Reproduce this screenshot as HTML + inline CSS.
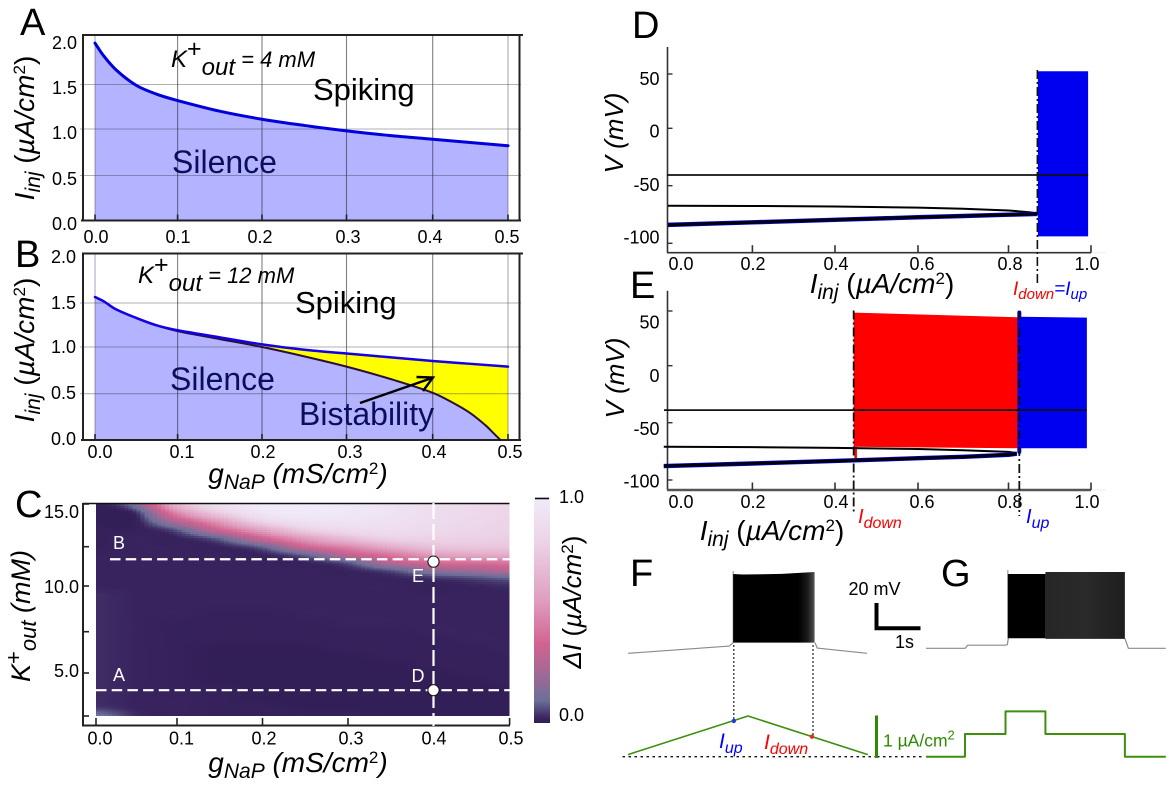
<!DOCTYPE html>
<html lang="en">
<head>
<meta charset="utf-8">
<title>Excitability and bistability panels</title>
<style>
html,body{margin:0;padding:0;background:#fff}
svg{display:block;font-family:"Liberation Sans",sans-serif}
.it{font-style:italic}
</style>
</head>
<body>
<svg id="fig" width="1170" height="792" viewBox="0 0 1170 792" xmlns="http://www.w3.org/2000/svg">
<defs>
<linearGradient id="cbar" x1="0" y1="1" x2="0" y2="0"></linearGradient>
<linearGradient id="fFade" x1="0" y1="0" x2="1" y2="0">
<stop offset="0" stop-color="#000"/><stop offset="0.8" stop-color="#000"/><stop offset="0.92" stop-color="#1c1c1c"/><stop offset="1" stop-color="#555"/>
</linearGradient>
<linearGradient id="gFade" x1="0" y1="0" x2="1" y2="0">
<stop offset="0" stop-color="#262626"/><stop offset="0.5" stop-color="#2a2a2a"/><stop offset="1" stop-color="#1e1e1e"/>
</linearGradient>
<clipPath id="heatClip"><rect x="95.5" y="504" width="414" height="212"/></clipPath>
</defs>

<g id="panelA"></g>
<g id="panelB"></g>
<g id="panelC"></g>
<g id="panelD"></g>
<g id="panelE"></g>
<g id="panelF"></g>
<g id="panelG"></g>

<!-- panel letters -->
<g font-size="38" fill="#000">
<text x="20" y="35">A</text>
<text x="15" y="267">B</text>
<text x="15" y="517">C</text>
<text x="632" y="38">D</text>
<text x="630" y="298">E</text>
<text x="630" y="586">F</text>
<text x="941" y="586">G</text>
</g>

<!-- panel A text -->
<text x="171" y="67" class="it" font-size="24">K<tspan dy="-10" font-size="25" font-style="normal">+</tspan><tspan dy="18">out</tspan><tspan dy="-8" font-size="22"> = 4 mM</tspan></text>
<text x="313" y="100" font-size="31">Spiking</text>
<text x="172" y="173" font-size="32" fill="#0d0d60">Silence</text>
<text transform="translate(34,128) rotate(-90)" text-anchor="middle" class="it" font-size="28">I<tspan dy="6" font-size="21">inj</tspan><tspan dy="-6" font-style="normal"> (</tspan>µA/cm<tspan dy="-9" font-size="17" font-style="normal">2</tspan><tspan dy="9" font-style="normal">)</tspan></text>

<!-- panel B text -->
<text x="138" y="283" class="it" font-size="24">K<tspan dy="-10" font-size="25" font-style="normal">+</tspan><tspan dy="18">out</tspan><tspan dy="-8" font-size="22"> = 12 mM</tspan></text>
<text x="295" y="313" font-size="31">Spiking</text>
<text x="170" y="390" font-size="32" fill="#0d0d60">Silence</text>
<text x="299" y="425" font-size="32" fill="#0d0d60">Bistability</text>
<text transform="translate(34,350) rotate(-90)" text-anchor="middle" class="it" font-size="28">I<tspan dy="6" font-size="21">inj</tspan><tspan dy="-6" font-style="normal"> (</tspan>µA/cm<tspan dy="-9" font-size="17" font-style="normal">2</tspan><tspan dy="9" font-style="normal">)</tspan></text>
<text x="298" y="483" text-anchor="middle" class="it" font-size="28">g<tspan dy="6" font-size="21">NaP</tspan><tspan dy="-6"> (mS/cm</tspan><tspan dy="-9" font-size="17" font-style="normal">2</tspan><tspan dy="9">)</tspan></text>

<!-- panel C text -->
<text transform="translate(30,616) rotate(-90)" text-anchor="middle" class="it" font-size="27">K<tspan dy="-9" font-size="22" font-style="normal">+</tspan><tspan dy="15" font-size="22">out</tspan><tspan dy="-6"> (mM)</tspan></text>
<text x="298" y="772" text-anchor="middle" class="it" font-size="28">g<tspan dy="6" font-size="21">NaP</tspan><tspan dy="-6"> (mS/cm</tspan><tspan dy="-9" font-size="17" font-style="normal">2</tspan><tspan dy="9">)</tspan></text>
<text transform="translate(581,602) rotate(-90)" text-anchor="middle" font-size="26" class="it">ΔI<tspan font-style="normal"> (</tspan>µA/cm<tspan dy="-8" font-size="17" font-style="normal">2</tspan><tspan dy="8" font-style="normal">)</tspan></text>

<!-- panel D / E text -->
<text transform="translate(623,133) rotate(-90)" text-anchor="middle" class="it" font-size="26">V (mV)</text>
<text x="882" y="293" text-anchor="middle" class="it" font-size="28">I<tspan dy="6" font-size="21">inj</tspan><tspan dy="-6" font-style="normal"> (</tspan>µA/cm<tspan dy="-9" font-size="17" font-style="normal">2</tspan><tspan dy="9" font-style="normal">)</tspan></text>
<text x="1013" y="295" class="it" font-size="19"><tspan fill="#f00">I</tspan><tspan fill="#f00" dy="4" font-size="15">down</tspan><tspan fill="#00f" dy="-4">=I</tspan><tspan fill="#00f" dy="4" font-size="15">up</tspan></text>
<text transform="translate(624,378) rotate(-90)" text-anchor="middle" class="it" font-size="26">V (mV)</text>
<text x="772" y="540" text-anchor="middle" class="it" font-size="28">I<tspan dy="6" font-size="21">inj</tspan><tspan dy="-6" font-style="normal"> (</tspan>µA/cm<tspan dy="-9" font-size="17" font-style="normal">2</tspan><tspan dy="9" font-style="normal">)</tspan></text>
<text x="858" y="523" class="it" font-size="20" fill="#f00">I<tspan dy="5" font-size="16">down</tspan></text>
<text x="1026" y="523" class="it" font-size="20" fill="#00f">I<tspan dy="5" font-size="16">up</tspan></text>

<!-- panel F / G text and scale bars -->
<text x="719" y="748" class="it" font-size="21" fill="#00f">I<tspan dy="5" font-size="16">up</tspan></text>
<text x="764" y="749" class="it" font-size="21" fill="#f00">I<tspan dy="5" font-size="16">down</tspan></text>
<text x="848.5" y="595" font-size="18">20 mV</text>
<text x="895" y="648" font-size="18">1s</text>
<path d="M876.5 603V628.3H920.5" fill="none" stroke="#000" stroke-width="4"/>
<line x1="876.5" y1="715.5" x2="876.5" y2="758" stroke="#2e8b00" stroke-width="3"/>
<text x="883" y="746.5" font-size="17.5" fill="#2e8b00">1 µA/cm<tspan dy="-7" font-size="13">2</tspan></text>

<script>
// ---------- Panel A / B data ----------
const gTicks = [0, 0.1, 0.2, 0.3, 0.4, 0.5];
const injTicks = [0, 0.5, 1, 1.5, 2];
const gCurve = [0, 0.01, 0.025, 0.05, 0.075, 0.1, 0.15, 0.2, 0.25, 0.3, 0.35, 0.4, 0.45, 0.5];
const aRheobase = [1.94, 1.81, 1.66, 1.49, 1.39, 1.32, 1.20, 1.11, 1.04, 0.98, 0.93, 0.89, 0.855, 0.82];
const bUpper = [1.56, 1.52, 1.43, 1.33, 1.245, 1.19, 1.11, 1.03, 0.97, 0.93, 0.89, 0.85, 0.82, 0.79];
const gLower = [0, 0.01, 0.025, 0.05, 0.075, 0.1, 0.15, 0.2, 0.25, 0.3, 0.35, 0.4, 0.425, 0.45, 0.47, 0.48, 0.49];
const bLower = [1.56, 1.52, 1.43, 1.33, 1.245, 1.18, 1.09, 1.00, 0.90, 0.79, 0.66, 0.51, 0.41, 0.29, 0.16, 0.08, 0];

// ---------- Panel C data ----------
const kTicks = [2.5, 5, 7.5, 10, 12.5, 15];
const kTickLabels = [5, 10, 15];
const heatG = [0, 0.05, 0.1, 0.15, 0.2, 0.25, 0.3, 0.35, 0.4, 0.45, 0.5];
const heatK = [15, 14.5, 14, 13.5, 13, 12.5, 12, 11.5, 11, 10.5, 10, 9.5, 9, 8.5, 8, 7.5, 7, 6.5, 6, 5.5, 5, 4.5, 4, 3.5, 3, 2.5];
const heatValues = [
 [0,.15,.66,.90,.98,1.0,.97,.93,.88,.85,.82],
 [0,.04,.48,.78,.95,.98,.96,.93,.88,.85,.82],
 [0,.01,.28,.55,.82,.92,.93,.91,.87,.84,.81],
 [.01,.01,.08,.35,.58,.78,.86,.88,.85,.82,.80],
 [.01,.02,.02,.10,.35,.55,.70,.80,.80,.79,.78],
 [.01,.02,.02,.02,.10,.35,.48,.62,.72,.74,.74],
 [.02,.02,.02,.02,.02,.10,.30,.42,.55,.60,.62],
 [.02,.02,.02,.02,.02,.02,.08,.28,.38,.40,.42],
 [.02,.02,.02,.02,.02,.02,.02,.07,.18,.22,.28],
 [.02,.02,.02,.02,.02,.02,.02,.02,.04,.06,.09],
 [.02,.02,.02,.02,.02,.02,.02,.02,.01,.02,.03],
 [.03,.02,.02,.02,.02,.02,.02,.02,.02,.02,.02],
 [.03,.02,.02,.02,.02,.02,.02,.02,.02,.02,.02],
 [.03,.02,.02,.01,.01,.02,.02,.02,.02,.02,.02],
 [.03,.02,.01,.01,.01,.01,.02,.02,.02,.02,.02],
 [.03,.02,.01,.01,.01,.01,.01,.01,.02,.02,.02],
 [.03,.02,.01,.01,.01,.01,.01,.01,.01,.02,.02],
 [.03,.02,.01,0,0,0,.01,.01,.01,.01,.02],
 [.03,.02,.01,0,0,0,0,.01,.01,.01,.01],
 [.03,.02,.01,0,0,0,0,0,.01,.01,.01],
 [.03,.02,.01,0,0,0,0,0,0,.01,.01],
 [.03,.02,.01,0,0,0,0,0,0,0,.01],
 [.03,.02,.01,.01,0,0,0,0,0,0,0],
 [.03,.02,.02,.01,0,0,0,0,0,0,0],
 [.04,.02,.02,.01,.01,0,0,0,0,0,0],
 [.12,.03,.02,.01,.01,.01,.01,0,0,0,0]
];
const kLineA = 4;
const kLineB = 11.7;
const gLineDE = 0.4;
const colorStopValues = [0, 0.02, 0.1, 0.2, 0.35, 0.55, 0.8, 1];
const colorStopColors = ['#331f58', '#38235e', '#6b7099', '#9a6a96', '#d2638f', '#e0a0c0', '#ecd3e6', '#f0ecfa'];

// ---------- Panel D / E data ----------
const iTicks = [0, 0.2, 0.4, 0.6, 0.8, 1];
const vTicks = [-100, -50, 0, 50];
const dCurrent = [0, 0.2, 0.4, 0.6, 0.7, 0.8, 0.85, 0.87];
const dUpper = [-67.4, -67.6, -68, -69, -70, -71.5, -73, -74];
const dLower = [-84, -81.8, -79.6, -77.4, -76.3, -75.2, -74.7, -74.5];
const dMiddle = -40.7;
const dIup = 0.87;
const dSpikeMax = 52.5;
const dSpikeMin = -94;
const dSpikeEnd = 0.993;
const eCurrent = [-0.01, 0.2, 0.4, 0.6, 0.7, 0.8, 0.82];
const eUpper = [-71, -71.3, -72, -73, -74, -75.5, -76.5];
const eLower = [-87.8, -85.6, -83.4, -81, -79.8, -78, -77];
const eMiddle = -39;
const eIdown = 0.445;
const eIup = 0.825;
const eIend = 0.99;
const eRedTop = [48.5, 44.2];
const eRedBottom = [-71, -72.3];
const eBlueTop = [44.8, 43.9];
const eBlueBottom = -72.3;

// ---------- Panel F / G data ----------
const fPreT = [0, 1.2, 2.3, 2.39];
const fPreV = [-70, -67, -64.2, -61.5];
const fPostT = [4.25, 4.3, 5.43];
const fPostV = [-61.5, -65.8, -70];
const fBandT = [2.39, 2.6, 3.5, 4.24];
const fBandTop = [-6.6, -7, -6.5, -5];
const fBandBottom = -61.5;
const fRampT = [0, 2.727, 5.45];
const fRampI = [0.05, 0.97, 0.05];
const gPreT = [0, 0.89, 0.95, 1.8, 1.85, 1.87];
const gPreV = [-66, -66, -63.5, -63.5, -63, -58];
const gPostT = [4.52, 4.6, 5.45];
const gPostV = [-58, -66, -66];
const gBand1T = [1.86, 2.714];
const gBand1Top = -6.6;
const gBand1Bottom = -58;
const gBand2T = [2.714, 4.52];
const gBand2Top = -5;
const gBand2Bottom = -58.5;
const gStepT = [0, 0.886, 0.886, 1.807, 1.807, 2.714, 2.714, 4.52, 4.52, 5.45];
const gStepI = [0, 0, 0.54, 0.54, 1.08, 1.08, 0.54, 0.54, 0, 0];

// ---------- helpers ----------
const NS = 'http://www.w3.org/2000/svg';
function piecewise(domain, range) {
  return function (v) {
    let i = 0;
    while (i < domain.length - 2 && v > domain[i + 1]) i++;
    const t = (v - domain[i]) / (domain[i + 1] - domain[i]);
    return range[i] + t * (range[i + 1] - range[i]);
  };
}
function mk(tag, attrs) {
  const e = document.createElementNS(NS, tag);
  for (const k in attrs) e.setAttribute(k, attrs[k]);
  return e;
}
function line(parent, x1, y1, x2, y2, stroke, w, name, dash) {
  const e = mk('line', { x1: x1, y1: y1, x2: x2, y2: y2, stroke: stroke, 'stroke-width': w });
  if (dash) e.setAttribute('stroke-dasharray', dash);
  
  
  parent.appendChild(e);
  return e;
}
function label(parent, x, y, str, anchor, size, name, fill) {
  const e = mk('text', { x: x, y: y, 'text-anchor': anchor, 'font-size': size, fill: fill || '#000', 'dominant-baseline': 'central' });
  e.textContent = str;
  
  
  parent.appendChild(e);
  return e;
}
function poly(parent, pts, fill, name) {
  const e = mk('polygon', { points: pts.map(p => p[0].toFixed(2) + ',' + p[1].toFixed(2)).join(' '), fill: fill });
  
  
  parent.appendChild(e);
  return e;
}
function polyline(parent, pts, stroke, w, name, dash) {
  const e = mk('polyline', { points: pts.map(p => p[0].toFixed(2) + ',' + p[1].toFixed(2)).join(' '), fill: 'none', stroke: stroke, 'stroke-width': w, 'stroke-linejoin': 'round' });
  if (dash) e.setAttribute('stroke-dasharray', dash);
  
  
  parent.appendChild(e);
  return e;
}
function smoothSegs(pts) {
  const dist = (a, b) => Math.hypot(a[0] - b[0], a[1] - b[1]);
  let d = '';
  for (let i = 0; i < pts.length - 1; i++) {
    const p0 = pts[Math.max(0, i - 1)], p1 = pts[i], p2 = pts[i + 1], p3 = pts[Math.min(pts.length - 1, i + 2)];
    const s = dist(p1, p2);
    const a = s / (dist(p0, p1) + s) / 3, b = s / (s + dist(p2, p3)) / 3;
    d += 'C' + (p1[0] + (p2[0] - p0[0]) * a).toFixed(2) + ' ' + (p1[1] + (p2[1] - p0[1]) * a).toFixed(2) + ' ' +
         (p2[0] - (p3[0] - p1[0]) * b).toFixed(2) + ' ' + (p2[1] - (p3[1] - p1[1]) * b).toFixed(2) + ' ' +
         p2[0].toFixed(2) + ' ' + p2[1].toFixed(2);
  }
  return d;
}
function curve(parent, pts, stroke, w, name) {
  const e = mk('path', { d: 'M' + pts[0][0].toFixed(2) + ' ' + pts[0][1].toFixed(2) + smoothSegs(pts), fill: 'none', stroke: stroke, 'stroke-width': w, 'stroke-linecap': 'round' });
  
  
  parent.appendChild(e);
  return e;
}
function area(parent, pts, baseY, fill, name) {
  const last = pts[pts.length - 1];
  const e = mk('path', { d: 'M' + pts[0][0].toFixed(2) + ' ' + baseY + 'L' + pts[0][0].toFixed(2) + ' ' + pts[0][1].toFixed(2) + smoothSegs(pts) + 'L' + last[0].toFixed(2) + ' ' + baseY + 'Z', fill: fill });
  
  
  parent.appendChild(e);
  return e;
}
function zip(xs, ys, fx, fy) {
  return xs.map((x, i) => [fx(x), fy(ys[i])]);
}
const f1 = v => v.toFixed(1);

// ---------- Panels A & B ----------
const gX = piecewise(gTicks, [95, 177.6, 262, 346.5, 432.7, 508]);
const aY = piecewise(injTicks, [220.5, 175.5, 129, 84.5, 37.5]);
const bY = piecewise(injTicks, [440, 393.7, 347, 303, 253.5]);

function frame(p, yScale, top, bottom, prefix) {
  gTicks.slice(1, 5).forEach(v => {
    line(p, gX(v), top, gX(v), bottom, 'rgba(50,50,60,0.62)', 1.1, prefix + '-grid-x');
  });
  injTicks.slice(1, 4).forEach(v => {
    line(p, 80, yScale(v), 521, yScale(v), 'rgba(50,50,60,0.38)', 1.1, prefix + '-grid-y');
  });
  line(p, gX(0), top, gX(0), bottom, 'rgba(70,70,130,0.5)', 1, prefix + '-grid-x-zero');
  line(p, gX(0.5), top, gX(0.5), bottom, 'rgba(50,50,60,0.45)', 1, prefix + '-grid-x-end');
  line(p, 82, top, 523, top, '#222', 2, prefix + '-top-spine');
  line(p, 83, top, 83, bottom + 1, '#222', 2, prefix + '-left-spine');
  line(p, 519.5, top, 519.5, bottom + 1, '#222', 2, prefix + '-right-spine');
  line(p, 81, bottom, 521, bottom, '#222', 2, prefix + '-bottom-spine');
  gTicks.forEach(v => {
    line(p, gX(v), bottom - 6, gX(v), bottom, '#222', 1.6, prefix + '-x-tick');
  });
}

// panel A
const pA = document.getElementById('panelA');
area(pA, zip(gCurve, aRheobase, gX, aY), aY(0), '#b3b3ff', 'silence-region-a');
frame(pA, aY, 35, 220.5, 'a');
curve(pA, zip(gCurve, aRheobase, gX, aY), '#0000dd', 3, 'rheobase-curve-a');
const aXLab = piecewise(gTicks, [96, 178, 260, 348, 430, 507]);
gTicks.forEach(v => {
  label(pA, aXLab(v), 237, f1(v), 'middle', 18, 'a-x-tick-label');
});
const aYLab = piecewise(injTicks, [224, 179, 133, 88, 43]);
injTicks.forEach(v => {
  label(pA, 77, aYLab(v), f1(v), 'end', 18, 'a-y-tick-label');
});

// panel B
const pB = document.getElementById('panelB');
area(pB, zip(gCurve, bUpper, gX, bY), bY(0), '#ffff00', 'bistability-region');
area(pB, zip(gLower, bLower, gX, bY), bY(0), '#b3b3ff', 'silence-region-b');
frame(pB, bY, 253.5, 440, 'b');
curve(pB, zip(gLower, bLower, gX, bY), '#2a0f3a', 2, 'lower-bifurcation-curve');
curve(pB, zip(gCurve, bUpper, gX, bY), '#1400e6', 2.5, 'upper-bifurcation-curve');
const bXLab = piecewise(gTicks, [100, 182, 263, 350, 434, 510]);
gTicks.forEach(v => {
  label(pB, bXLab(v), 452, f1(v), 'middle', 18, 'b-x-tick-label');
});
const bYLab = piecewise(injTicks, [439, 393, 347, 303, 257]);
injTicks.forEach(v => {
  label(pB, 76, bYLab(v), f1(v), 'end', 18, 'b-y-tick-label');
});
const arrow = mk('path', { d: 'M360 403L432 378M416.5 377L433 377.5L423 391', fill: 'none', stroke: '#000', 'stroke-width': 2.4 });


pB.appendChild(arrow);

// ---------- Panel C ----------
const pC = document.getElementById('panelC');
const cX = piecewise(gTicks, [96, 177, 262.5, 348, 433.5, 509.6]);
const cY = piecewise(kTicks, [716, 673, 631.7, 586, 546.7, 504]);
function colorOf(v) {
  const s = colorStopValues;
  let i = 0;
  while (i < s.length - 2 && v > s[i + 1]) i++;
  const t = Math.max(0, Math.min(1, (v - s[i]) / (s[i + 1] - s[i])));
  const a = colorStopColors[i], b = colorStopColors[i + 1];
  const ch = k => {
    const c0 = parseInt(a.substr(k, 2), 16), c1 = parseInt(b.substr(k, 2), 16);
    return Math.round(c0 + t * (c1 - c0));
  };
  return 'rgb(' + ch(1) + ',' + ch(3) + ',' + ch(5) + ')';
}
function cr(a, b, c, d, t) {
  return 0.5 * (2 * b + (c - a) * t + (2 * a - 5 * b + 4 * c - d) * t * t + (3 * b - a - 3 * c + d) * t * t * t);
}
function sampleHeat(r, tr, c, tc) {
  const nr = heatValues.length - 1, nc = heatValues[0].length - 1;
  const rowAt = i => {
    const row = heatValues[Math.max(0, Math.min(nr, i))];
    const at = j => row[Math.max(0, Math.min(nc, j))];
    return cr(at(c - 1), at(c), at(c + 1), at(c + 2), tc);
  };
  const v = cr(rowAt(r - 1), rowAt(r), rowAt(r + 1), rowAt(r + 2), tr);
  return Math.max(0, Math.min(1, v));
}
const heatGroup = mk('g', { 'clip-path': 'url(#heatClip)', 'shape-rendering': 'crispEdges' });


pC.appendChild(heatGroup);
const subCol = 10, subRow = 4;
for (let r = 0; r < heatK.length - 1; r++) {
  for (let sr = 0; sr < subRow; sr++) {
    const tr = (sr + 0.5) / subRow;
    const k0 = heatK[r] + (heatK[r + 1] - heatK[r]) * sr / subRow;
    const k1 = heatK[r] + (heatK[r + 1] - heatK[r]) * (sr + 1) / subRow;
    const y0 = cY(k0), y1 = cY(k1);
    for (let c = 0; c < heatG.length - 1; c++) {
      for (let sc = 0; sc < subCol; sc++) {
        const tc = (sc + 0.5) / subCol;
        const g0 = heatG[c] + (heatG[c + 1] - heatG[c]) * sc / subCol;
        const g1 = heatG[c] + (heatG[c + 1] - heatG[c]) * (sc + 1) / subCol;
        const x0 = cX(g0), x1 = cX(g1);
        const v = sampleHeat(r, tr, c, tc);
        const cell = mk('rect', { x: x0.toFixed(2), y: y0.toFixed(2), width: (x1 - x0 + 0.6).toFixed(2), height: (y1 - y0 + 0.6).toFixed(2), fill: colorOf(v) });
        
        
        heatGroup.appendChild(cell);
      }
    }
  }
}
line(pC, 83, 503.5, 509.5, 503.5, '#111', 1.6, 'c-top-spine');
line(pC, 83, 503, 83, 726, '#222', 2, 'c-left-spine');
line(pC, 82, 725.5, 510, 725.5, '#222', 2, 'c-bottom-spine');
gTicks.forEach(v => {
  line(pC, cX(v), 718, cX(v), 725, '#222', 1.6, 'c-x-tick');
});
kTicks.forEach(v => {
  line(pC, 83, cY(v), 89, cY(v), '#222', 1.6, 'c-y-tick');
});
const cXLab = piecewise(gTicks, [100, 181.5, 264, 351, 434, 511]);
gTicks.forEach(v => {
  label(pC, cXLab(v), 738.5, f1(v), 'middle', 18, 'c-x-tick-label');
});
const cYLab = piecewise(kTickLabels, [671, 587, 512]);
kTickLabels.forEach(v => {
  label(pC, 79, cYLab(v), f1(v), 'end', 18, 'c-y-tick-label');
});
line(pC, 110, cY(kLineB), 509.5, cY(kLineB), '#fff', 2.2, 'cut-line-b', '10.5 5.2');
line(pC, 96, cY(kLineA), 509.5, cY(kLineA), '#fff', 2.2, 'cut-line-a', '10.5 5.2');
line(pC, cX(gLineDE), 503, cX(gLineDE), 726, '#fff', 2.2, 'cut-line-de', '16 5');
[[kLineB - 0.15, 'point-e'], [kLineA, 'point-d']].forEach(d => {
  const c = mk('circle', { cx: cX(gLineDE), cy: cY(d[0]), r: 5.6, fill: '#fff', stroke: '#111', 'stroke-width': 1 });
  
  
  pC.appendChild(c);
});
label(pC, 119, 543, 'B', 'middle', 18, 'line-label-b', '#fff');
label(pC, 119, 675, 'A', 'middle', 18, 'line-label-a', '#fff');
label(pC, 418, 576, 'E', 'middle', 18, 'point-label-e', '#fff');
label(pC, 418, 676, 'D', 'middle', 18, 'point-label-d', '#fff');
const cbarGrad = document.getElementById('cbar');
colorStopValues.forEach((v, i) => {
  const s = mk('stop', { offset: v, 'stop-color': colorStopColors[i] });
  cbarGrad.appendChild(s);
});
const cbarRect = mk('rect', { x: 534, y: 497, width: 16, height: 226, fill: 'url(#cbar)' });


pC.appendChild(cbarRect);
line(pC, 535, 498.5, 549, 498.5, '#111', 1.6, 'colorbar-tick');
label(pC, 559, 497, '1.0', 'start', 18, 'colorbar-max-label');
label(pC, 559, 715, '0.0', 'start', 18, 'colorbar-min-label');

// ---------- Panels D & E ----------
const iX = piecewise(iTicks, [668, 752.4, 835, 918, 1008.5, 1091]);
const iLab = piecewise(iTicks, [681, 753, 836, 922, 1010, 1087]);
const dV = piecewise(vTicks, [243.3, 185.7, 128.3, 74]);
const dVLab = piecewise(vTicks, [237.7, 185, 131.7, 79]);
const eV = piecewise(vTicks, [480, 422.7, 365.7, 311]);
const eVLab = piecewise(vTicks, [481.7, 429, 376, 322.7]);

function axesVI(p, yScale, yLab, top, bottom, prefix, labelY, botW) {
  line(p, 667.5, top, 667.5, bottom, '#333', 1.6, prefix + '-left-spine');
  line(p, 667, bottom, 1091, bottom, botW > 2 ? '#555' : '#333', botW, prefix + '-bottom-spine');
  line(p, 1091, bottom, 1106, bottom, '#eee', 1, prefix + '-axis-extension');
  iTicks.slice(1).forEach(v => {
    line(p, iX(v), bottom - 7.5, iX(v), bottom, '#333', 1.6, prefix + '-x-tick');
  });
  vTicks.forEach(v => {
    line(p, 667, yScale(v), 672.5, yScale(v), '#333', 1.4, prefix + '-y-tick');
  });
  iTicks.forEach(v => {
    label(p, iLab(v), labelY, f1(v), 'middle', 18, prefix + '-x-tick-label');
  });
  vTicks.forEach(v => {
    label(p, 659.5, yLab(v), String(v), 'end', 18, prefix + '-y-tick-label');
  });
}

// panel D
const pD = document.getElementById('panelD');
axesVI(pD, dV, dVLab, 47, 252.7, 'd', 264, 1.6);
poly(pD, [[iX(dIup) + 0.5, dV(dSpikeMax)], [iX(dSpikeEnd), dV(dSpikeMax)], [iX(dSpikeEnd), dV(dSpikeMin)], [iX(dIup) + 0.5, dV(dSpikeMin)]], '#0000f0', 'spiking-band-d');
line(pD, 667, dV(dMiddle), iX(dSpikeEnd), dV(dMiddle), '#111', 1.8, 'unstable-branch-d');
polyline(pD, zip(dCurrent, dUpper, iX, dV), '#000', 2, 'upper-branch-d');
polyline(pD, zip(dCurrent, dLower, iX, dV), '#0000f0', 4.4, 'lower-branch-blue-d');
polyline(pD, zip(dCurrent, dLower, iX, dV), '#000', 3, 'lower-branch-d');
line(pD, iX(dIup), 70, iX(dIup), 283, '#111', 1.6, 'iup-marker-d', '9 3 2 3');

// panel E
const pE = document.getElementById('panelE');
axesVI(pE, eV, eVLab, 290.7, 490, 'e', 502, 2.6);
poly(pE, [[iX(eIup) + 1, eV(eBlueTop[0])], [iX(eIend), eV(eBlueTop[1])], [iX(eIend), eV(eBlueBottom)], [iX(eIup) + 1, eV(eBlueBottom)]], '#0000f0', 'blue-spiking-band-e');
poly(pE, [[iX(eIdown), eV(eRedTop[0])], [iX(eIup), eV(eRedTop[1])], [iX(eIup), eV(eRedBottom[1])], [iX(eIdown), eV(eRedBottom[0])]], '#ff0000', 'red-spiking-band-e');
line(pE, iX(eIdown) + 2, eV(eRedBottom[0]), iX(eIdown) + 2, 459, '#ff0000', 2.5, 'red-transition-e');
line(pE, iX(eIup) + 0.5, 312.5, iX(eIup) + 0.5, 452, '#0000f0', 4, 'blue-transition-e').setAttribute('stroke-linecap', 'round');
line(pE, 664, eV(eMiddle), iX(eIend), eV(eMiddle), '#111', 1.8, 'unstable-branch-e');
polyline(pE, zip(eCurrent, eUpper, iX, eV), '#000', 2, 'upper-branch-e');
polyline(pE, zip(eCurrent, eLower, iX, eV), '#0000f0', 4.4, 'lower-branch-blue-e');
polyline(pE, zip(eCurrent, eLower, iX, eV), '#000', 3, 'lower-branch-e');
line(pE, iX(eIdown), 310.5, iX(eIdown), 512, '#111', 1.8, 'idown-marker-e', '9 3 2 3');
line(pE, iX(eIup) + 0.5, 311, iX(eIup) + 0.5, 516, '#111', 1.8, 'iup-marker-e', '9 3 2 3');

// ---------- Panels F & G ----------
const fT = t => 628 + 44 * t;
const gT = t => 926 + 44 * t;
const vY = v => 653.3 - (v + 70) * 1.25;
const iY = i => 756.7 - 42 * i;

// panel F
const pF = document.getElementById('panelF');
polyline(pF, zip(fPreT, fPreV, fT, vY), '#8a8a8a', 1.2, 'f-pre-trace');
polyline(pF, zip(fPostT, fPostV, fT, vY), '#8a8a8a', 1.2, 'f-post-trace');
line(pF, fT(fBandT[0]), vY(fBandTop[0]) - 3, fT(fBandT[0]), vY(fBandBottom), '#888', 1, 'f-first-spike');
poly(pF, zip(fBandT, fBandTop, fT, vY).concat([[fT(4.24), vY(fBandBottom)], [fT(2.39), vY(fBandBottom)]]), 'url(#fFade)', 'f-spiking-band');
line(pF, 733.8, 645, 733.8, 720, '#222', 1.2, 'f-iup-dotted-line', '2 2');
line(pF, 813, 645, 813, 735, '#222', 1.2, 'f-idown-dotted-line', '2 2');
line(pF, 622.5, 756.7, 875, 756.7, '#111', 1.4, 'f-zero-current-line', '2.5 3.5');
line(pF, 877, 756.7, 924, 756.7, '#111', 1.4, 'g-zero-current-line', '2.5 3.5');
polyline(pF, zip(fRampT, fRampI, fT, iY), '#3f8f0f', 1.6, 'f-current-ramp');
const dotUp = mk('circle', { cx: 733.8, cy: 721, r: 2.2, fill: '#1a3fd0' });


pF.appendChild(dotUp);
const dotDown = mk('circle', { cx: 812, cy: 736.7, r: 2.2, fill: '#e03020' });


pF.appendChild(dotDown);

// panel G
const pG = document.getElementById('panelG');
polyline(pG, zip(gPreT, gPreV, gT, vY), '#8a8a8a', 1.2, 'g-pre-trace');
polyline(pG, zip(gPostT, gPostV, gT, vY), '#8a8a8a', 1.2, 'g-post-trace');
line(pG, gT(gBand1T[0]), vY(gBand1Top) - 4, gT(gBand1T[0]), vY(gBand1Bottom), '#888', 1, 'g-first-spike');
poly(pG, [[gT(gBand1T[0]), vY(gBand1Top)], [gT(gBand1T[1]), vY(gBand1Top)], [gT(gBand1T[1]), vY(gBand1Bottom)], [gT(gBand1T[0]), vY(gBand1Bottom)]], '#000', 'g-spiking-band-1');
poly(pG, [[gT(gBand2T[0]), vY(gBand2Top)], [gT(gBand2T[1]), vY(gBand2Top)], [gT(gBand2T[1]), vY(gBand2Bottom)], [gT(gBand2T[0]), vY(gBand2Bottom)]], 'url(#gFade)', 'g-spiking-band-2');
polyline(pG, zip(gStepT, gStepI, gT, iY), '#3f8f0f', 2, 'g-current-steps');
</script>
</svg>
</body>
</html>
